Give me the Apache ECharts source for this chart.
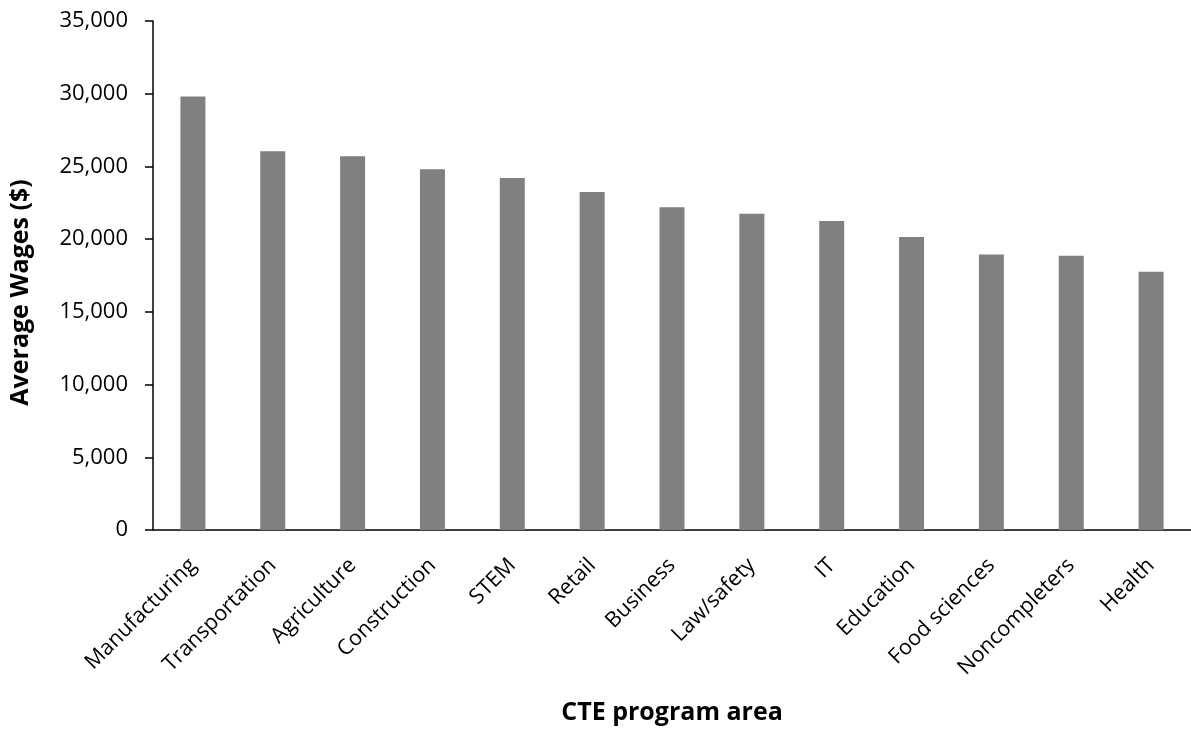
<!DOCTYPE html>
<html>
<head>
<meta charset="utf-8">
<script src="https://cdn.jsdelivr.net/npm/echarts@6/dist/echarts.min.js"></script>
<style>html,body{margin:0;padding:0;background:#fff}#c{width:1191px;height:730px}</style>
</head>
<body>
<div id="c"></div>
<script>
const categories = ["Manufacturing","Transportation","Agriculture","Construction","STEM","Retail","Business","Law/safety","IT","Education","Food sciences","Noncompleters","Health"];
const wages = [29800,26050,25700,24800,24200,23250,22200,21750,21250,20150,18950,18850,17750];
const yTicks = {min:0, max:35000, interval:5000};

const chart = echarts.init(document.getElementById('c'));
const font = '"Open Sans", "Noto Sans", sans-serif';
chart.setOption({
  animation:false,
  grid:{left:151, top:21, width:1050, bottom:198, containLabel:false},
  xAxis:{
    type:'category', data:categories,
    name:'CTE program area', nameLocation:'middle', nameGap:170,
    nameTextStyle:{fontFamily:font, fontSize:25, fontWeight:'bold', color:'#000'},
    axisLine:{lineStyle:{color:'#000', width:1.5}},
    axisTick:{show:false},
    axisLabel:{rotate:45, margin:32, interval:0, fontFamily:font, fontSize:21.5, color:'#000'}
  },
  yAxis:{
    type:'value', min:yTicks.min, max:yTicks.max, interval:yTicks.interval,
    name:'Average Wages ($)', nameLocation:'middle', nameGap:120,
    nameTextStyle:{fontFamily:font, fontSize:25, fontWeight:'bold', color:'#000', padding:[0,34,0,0]},
    axisLine:{show:true, lineStyle:{color:'#000', width:1.5}},
    axisTick:{show:true, length:8, lineStyle:{color:'#000', width:1.5}},
    splitLine:{show:false},
    axisLabel:{margin:25, fontFamily:font, fontSize:22, color:'#000',
      formatter:v=>v.toLocaleString('en-US')}
  },
  series:[{type:'bar', data:wages, barWidth:25, itemStyle:{color:'#808080'}}]
});
</script>
</body>
</html>
